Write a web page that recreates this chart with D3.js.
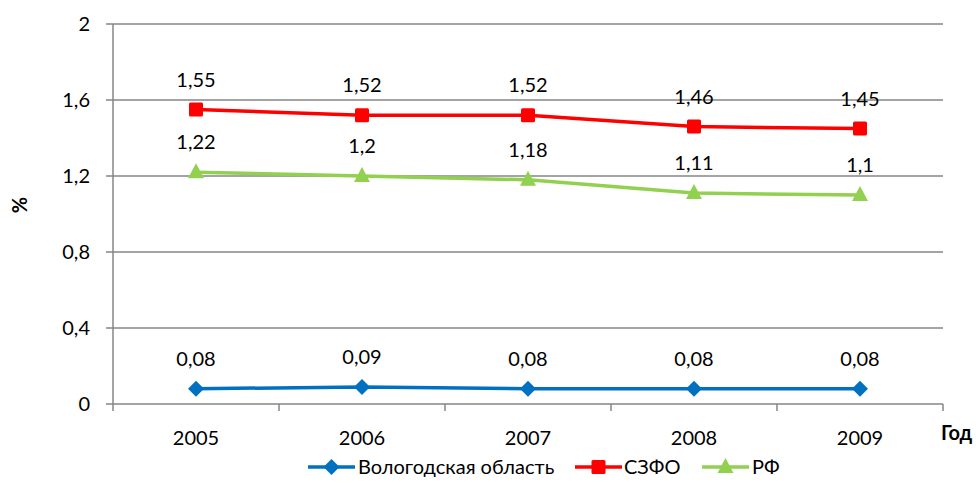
<!DOCTYPE html>
<html><head><meta charset="utf-8">
<script src="https://cdn.jsdelivr.net/npm/d3@7"></script>
<style>body{margin:0;background:#fff}svg{display:block}text{font-family:Lato,"Open Sans",sans-serif;fill:#000}</style>
</head><body><svg id="c" width="979" height="483"></svg>
<script>
const years = ["2005","2006","2007","2008","2009"];
const vologda = [0.08,0.09,0.08,0.08,0.08];
const szfo = [1.55,1.52,1.52,1.46,1.45];
const rf = [1.22,1.2,1.18,1.11,1.1];
const yTicks = [0,0.4,0.8,1.2,1.6,2];
const seriesNames = ["Вологодская область","СЗФО","РФ"];

const series = [
  {name:seriesNames[0], values:vologda, color:"#0070C0", marker:"diamond"},
  {name:seriesNames[1], values:szfo, color:"#FF0000", marker:"square"},
  {name:seriesNames[2], values:rf, color:"#92D050", marker:"triangle"}
];
const fmt = v => String(v).replace(".", ",");
const svg = d3.select("#c");
const L=113,R=943,T=24,B=404;
const x = d3.scaleBand().domain(years).range([L,R]);
const y = d3.scaleLinear().domain([0,2]).range([B,T]);
const grid="#868686";

// gridlines
svg.append("g").selectAll("line").data(yTicks).join("line")
  .attr("x1",L-7).attr("x2",R).attr("y1",d=>y(d)).attr("y2",d=>y(d))
  .attr("stroke",grid).attr("stroke-width",1.5);
// y axis
svg.append("line").attr("x1",L).attr("x2",L).attr("y1",T).attr("y2",B).attr("stroke",grid).attr("stroke-width",1.5);
svg.append("g").selectAll("text").data(yTicks).join("text")
  .attr("x",90).attr("y",d=>y(d)).attr("dy","0.35em").attr("text-anchor","end")
  .style("font-size","20px").text(fmt);
// x ticks
const xt = years.map(d=>x(d)).concat([R]);
svg.append("g").selectAll("line").data(xt).join("line")
  .attr("x1",d=>d).attr("x2",d=>d).attr("y1",B).attr("y2",B+7).attr("stroke",grid).attr("stroke-width",1.5);
svg.append("g").selectAll("text").data(years).join("text")
  .attr("x",d=>x(d)+x.bandwidth()/2).attr("y",438).attr("dy","0.35em").attr("text-anchor","middle")
  .style("font-size","20px").text(d=>d);
// axis titles
svg.append("text").attr("x",941).attr("y",433).attr("dy","0.35em").style("font-size","20px").style("font-weight","bold").text("Год");
svg.append("text").attr("transform","translate(20,205) rotate(-90)").attr("text-anchor","middle").attr("dy","0.35em")
  .style("font-size","20px").style("font-weight","bold").text("%");

const cx = d=>x(d)+x.bandwidth()/2;
function marker(g,type,color,px,py){
  if(type==="diamond") g.append("path").attr("d",`M${px},${py-8}L${px+8},${py}L${px},${py+8}L${px-8},${py}Z`).attr("fill",color);
  else if(type==="square") g.append("rect").attr("x",px-7).attr("y",py-7).attr("width",14).attr("height",14).attr("rx",1.5).attr("fill",color);
  else g.append("path").attr("d",`M${px},${py-9}L${px+8},${py+6}L${px-8},${py+6}Z`).attr("fill",color);
}
const line = d3.line().x((d,i)=>cx(years[i])).y(d=>y(d));
series.forEach(s=>{
  const g = svg.append("g");
  g.append("path").attr("d",line(s.values)).attr("fill","none").attr("stroke",s.color).attr("stroke-width",3.5).attr("stroke-linejoin","round");
  s.values.forEach((v,i)=>marker(g,s.marker,s.color,cx(years[i]),y(v)));
  g.selectAll("text").data(s.values).join("text")
    .attr("x",(d,i)=>cx(years[i])).attr("y",d=>y(d)-30).attr("dy","0.35em").attr("text-anchor","middle")
    .style("font-size","20px").text(fmt);
});
// legend
const leg = [{x0:308,tx:358},{x0:575,tx:624},{x0:702,tx:752}];
series.forEach((s,i)=>{
  const g=svg.append("g"); const ly=467;
  g.append("line").attr("x1",leg[i].x0).attr("x2",leg[i].x0+47).attr("y1",ly).attr("y2",ly).attr("stroke",s.color).attr("stroke-width",3.5);
  marker(g,s.marker,s.color,leg[i].x0+23.5,ly);
  g.append("text").attr("x",leg[i].tx).attr("y",ly).attr("dy","0.35em").style("font-size","20px").text(s.name);
});
</script></body></html>
